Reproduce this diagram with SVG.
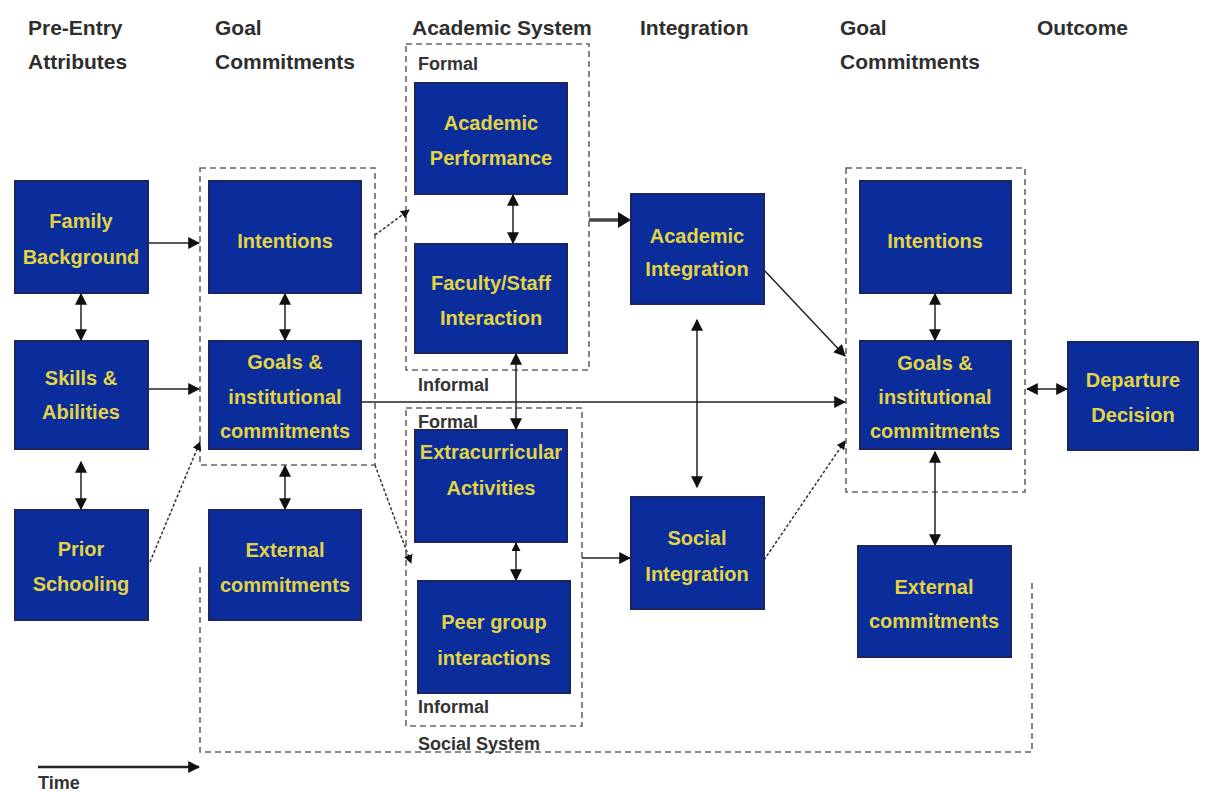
<svg xmlns="http://www.w3.org/2000/svg" width="1207" height="792" viewBox="0 0 1207 792">
<style>
.bg{fill:#ffffff}
.box{fill:#0b2d9c;stroke:#1b2560;stroke-width:2}
.bt{font-family:"Liberation Sans",Arial,sans-serif;font-weight:bold;font-size:20px;fill:#e3d443;text-anchor:middle}
.hd{font-family:"Liberation Sans",Arial,sans-serif;font-weight:bold;font-size:21px;fill:#2e2e2e}
.lb{font-family:"Liberation Sans",Arial,sans-serif;font-weight:bold;font-size:18px;fill:#333}
.dash{fill:none;stroke:#666;stroke-width:1.6;stroke-dasharray:6 4}
.ln{fill:none;stroke:#222;stroke-width:1.5}
.dot{fill:none;stroke:#333;stroke-width:1.5;stroke-dasharray:3 2}
.thick{fill:none;stroke:#444;stroke-width:3.5}
</style>
<defs>
<marker id="ah" viewBox="0 0 10 10" refX="9" refY="5" markerWidth="9" markerHeight="9" markerUnits="userSpaceOnUse" orient="auto-start-reverse">
<path d="M0,0 L10,5 L0,10 z" fill="#111"/>
</marker>
<marker id="ahb" viewBox="0 0 10 10" refX="9" refY="5" markerWidth="12" markerHeight="12" markerUnits="userSpaceOnUse" orient="auto-start-reverse">
<path d="M0,0 L10,5 L0,10 z" fill="#111"/>
</marker>
</defs>
<rect class="bg" x="0" y="0" width="1207" height="792"/>

<g id="headers">
<text class="hd" x="28" y="35">Pre-Entry</text>
<text class="hd" x="28" y="69">Attributes</text>
<text class="hd" x="215" y="35">Goal</text>
<text class="hd" x="215" y="69">Commitments</text>
<text class="hd" x="412" y="35">Academic System</text>
<text class="hd" x="640" y="35">Integration</text>
<text class="hd" x="840" y="35">Goal</text>
<text class="hd" x="840" y="69">Commitments</text>
<text class="hd" x="1037" y="35">Outcome</text>
</g>

<g id="groups">
<rect class="dash" x="200" y="168" width="175" height="297"/>
<rect class="dash" x="406" y="44" width="183" height="326"/>
<rect class="dash" x="406" y="408" width="176" height="318"/>
<rect class="dash" x="846" y="168" width="179" height="324"/>
<polyline class="dash" points="200,567 200,752 1032,752 1032,583"/>
<text class="lb" x="418" y="70">Formal</text>
<text class="lb" x="418" y="391">Informal</text>
<text class="lb" x="418" y="428">Formal</text>
<text class="lb" x="418" y="713">Informal</text>
<text class="lb" x="418" y="750" font-size="19">Social System</text>
<text class="lb" x="38" y="789">Time</text>
</g>

<g id="connectors">
<line class="ln" x1="148" y1="243" x2="199" y2="243" marker-end="url(#ahb)"/>
<line class="ln" x1="148" y1="389" x2="199" y2="389" marker-end="url(#ahb)"/>
<line class="dot" x1="150" y1="562" x2="200" y2="442" marker-end="url(#ah)"/>
<line class="ln" x1="81" y1="294" x2="81" y2="340" marker-start="url(#ahb)" marker-end="url(#ahb)"/>
<line class="ln" x1="81" y1="462" x2="81" y2="509" marker-start="url(#ahb)" marker-end="url(#ahb)"/>
<line class="ln" x1="285" y1="294" x2="285" y2="340" marker-start="url(#ahb)" marker-end="url(#ahb)"/>
<line class="ln" x1="285" y1="466" x2="285" y2="509" marker-start="url(#ahb)" marker-end="url(#ahb)"/>
<line class="dot" x1="375" y1="235" x2="409" y2="210" marker-end="url(#ah)"/>
<line class="dot" x1="375" y1="465" x2="411" y2="563" marker-end="url(#ah)"/>
<line class="ln" x1="513" y1="195" x2="513" y2="243" marker-start="url(#ahb)" marker-end="url(#ahb)"/>
<line class="ln" x1="516" y1="354" x2="516" y2="429" marker-start="url(#ahb)" marker-end="url(#ahb)"/>
<line class="ln" x1="516" y1="543" x2="516" y2="580" marker-start="url(#ah)" marker-end="url(#ahb)"/>
<line class="thick" x1="589" y1="220" x2="622" y2="220"/>
<path d="M618,212 L631,220 L618,228 z" fill="#111"/>
<line class="ln" x1="582" y1="558" x2="630" y2="558" marker-end="url(#ahb)"/>
<line class="ln" x1="697" y1="320" x2="697" y2="487" marker-start="url(#ahb)" marker-end="url(#ahb)"/>
<line class="ln" x1="764" y1="270" x2="845" y2="356" marker-end="url(#ahb)"/>
<line class="ln" x1="361" y1="402" x2="845" y2="402" marker-end="url(#ahb)"/>
<line class="dot" x1="764" y1="560" x2="845" y2="441" marker-end="url(#ah)"/>
<line class="ln" x1="1027" y1="389" x2="1067" y2="389" marker-start="url(#ahb)" marker-end="url(#ahb)"/>
<line class="ln" x1="935" y1="294" x2="935" y2="340" marker-start="url(#ahb)" marker-end="url(#ahb)"/>
<line class="ln" x1="935" y1="452" x2="935" y2="545" marker-start="url(#ahb)" marker-end="url(#ahb)"/>
<line x1="38" y1="767" x2="199" y2="767" stroke="#222" stroke-width="2.5" marker-end="url(#ahb)"/>
</g>

<g id="family-background"><rect class="box" x="15" y="181" width="133" height="112"/><text class="bt" x="81" y="228">Family</text><text class="bt" x="81" y="264">Background</text></g>
<g id="skills-abilities"><rect class="box" x="15" y="341" width="133" height="108"/><text class="bt" x="81" y="385">Skills &amp;</text><text class="bt" x="81" y="419">Abilities</text></g>
<g id="prior-schooling"><rect class="box" x="15" y="510" width="133" height="110"/><text class="bt" x="81" y="556">Prior</text><text class="bt" x="81" y="591">Schooling</text></g>
<g id="intentions-left"><rect class="box" x="209" y="181" width="152" height="112"/><text class="bt" x="285" y="248">Intentions</text></g>
<g id="goals-left"><rect class="box" x="209" y="341" width="152" height="108"/><text class="bt" x="285" y="369">Goals &amp;</text><text class="bt" x="285" y="404">institutional</text><text class="bt" x="285" y="438">commitments</text></g>
<g id="external-left"><rect class="box" x="209" y="510" width="152" height="110"/><text class="bt" x="285" y="557">External</text><text class="bt" x="285" y="592">commitments</text></g>
<g id="academic-performance"><rect class="box" x="415" y="83" width="152" height="111"/><text class="bt" x="491" y="130">Academic</text><text class="bt" x="491" y="165">Performance</text></g>
<g id="faculty-staff"><rect class="box" x="415" y="244" width="152" height="109"/><text class="bt" x="491" y="290">Faculty/Staff</text><text class="bt" x="491" y="325">Interaction</text></g>
<g id="extracurricular"><rect class="box" x="415" y="430" width="152" height="112"/><text class="bt" x="491" y="459">Extracurricular</text><text class="bt" x="491" y="495">Activities</text></g>
<g id="peer-group"><rect class="box" x="418" y="581" width="152" height="112"/><text class="bt" x="494" y="629">Peer group</text><text class="bt" x="494" y="665">interactions</text></g>
<g id="academic-integration"><rect class="box" x="631" y="194" width="133" height="110"/><text class="bt" x="697" y="243">Academic</text><text class="bt" x="697" y="276">Integration</text></g>
<g id="social-integration"><rect class="box" x="631" y="497" width="133" height="112"/><text class="bt" x="697" y="545">Social</text><text class="bt" x="697" y="581">Integration</text></g>
<g id="intentions-right"><rect class="box" x="860" y="181" width="151" height="112"/><text class="bt" x="935" y="248">Intentions</text></g>
<g id="goals-right"><rect class="box" x="860" y="341" width="151" height="108"/><text class="bt" x="935" y="370">Goals &amp;</text><text class="bt" x="935" y="404">institutional</text><text class="bt" x="935" y="438">commitments</text></g>
<g id="external-right"><rect class="box" x="858" y="546" width="153" height="111"/><text class="bt" x="934" y="594">External</text><text class="bt" x="934" y="628">commitments</text></g>
<g id="departure-decision"><rect class="box" x="1068" y="342" width="130" height="108"/><text class="bt" x="1133" y="387">Departure</text><text class="bt" x="1133" y="422">Decision</text></g>
</svg>
